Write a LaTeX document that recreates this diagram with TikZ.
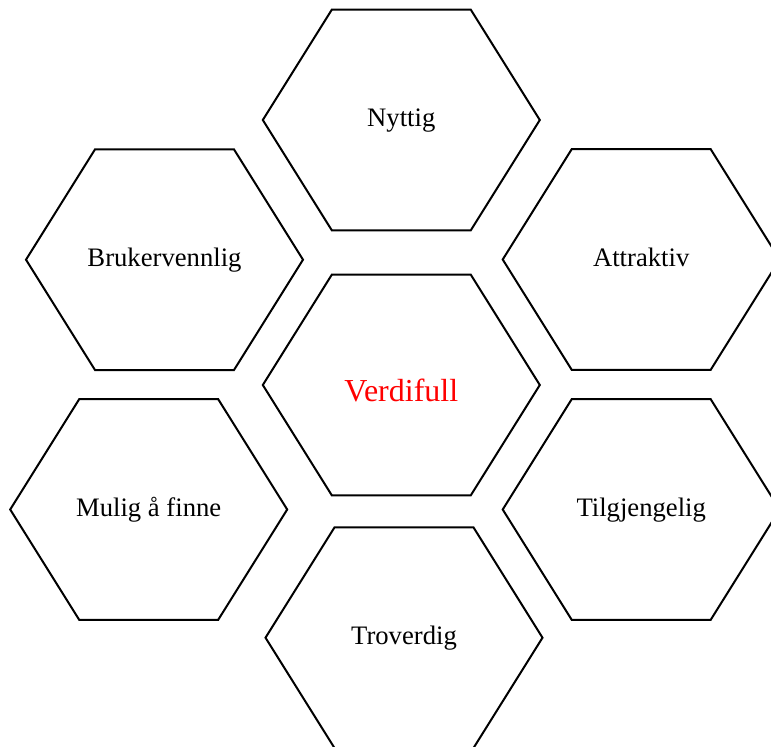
\documentclass[tikz,border=0pt]{standalone}
\usepackage{fontspec}
\setmainfont{Liberation Serif}
\definecolor{valred}{RGB}{255, 0, 0}
\tikzset{
  hexline/.style={draw=black, line width=0.9pt, line join=miter},
  hexlabel/.style={font=\fontsize{12}{14}\selectfont, text height=0.8em, text depth=0.2em, inner sep=0pt}
}

\begin{document}
\begin{tikzpicture}[x=0.45pt, y=-0.45pt]
    \useasboundingbox (0,0) rectangle (771,747);

    % Cell centres
    \coordinate (mid)   at (401.3,385);
    \coordinate (top)   at (401.3,120);
    \coordinate (bot)   at (404,637.7);
    \coordinate (upl)   at (164.5,259.7);
    \coordinate (upr)   at (641.2,259.5);
    \coordinate (lowl)  at (148.7,509.5);
    \coordinate (lowr)  at (641.2,509.5);

    % Hexagons
    \foreach \c in {mid,top,bot,upl,upr,lowl,lowr} {
      \draw[hexline] ([shift={(-138.5,0)}]\c) -- ([shift={(-69.5,-110.3)}]\c)
        -- ([shift={(69.5,-110.3)}]\c) -- ([shift={(138.5,0)}]\c)
        -- ([shift={(69.5,110.3)}]\c) -- ([shift={(-69.5,110.3)}]\c) -- cycle;
    }

    % Labels
    \node[hexlabel, font=\fontsize{14.4}{17}\selectfont, text=valred] (verdifull) at ([shift={(0,10)}]mid) {Verdifull};
    \node[hexlabel] (nyttig) at (top) {Nyttig};
    \node[hexlabel] (troverdig) at (bot) {Troverdig};
    \node[hexlabel] (brukervennlig) at (upl) {Brukervennlig};
    \node[hexlabel] (attraktiv) at (upr) {Attraktiv};
    \node[hexlabel] (mulig) at (lowl) {Mulig å finne};
    \node[hexlabel] (tilgjengelig) at (lowr) {Tilgjengelig};
\end{tikzpicture}
\end{document}
